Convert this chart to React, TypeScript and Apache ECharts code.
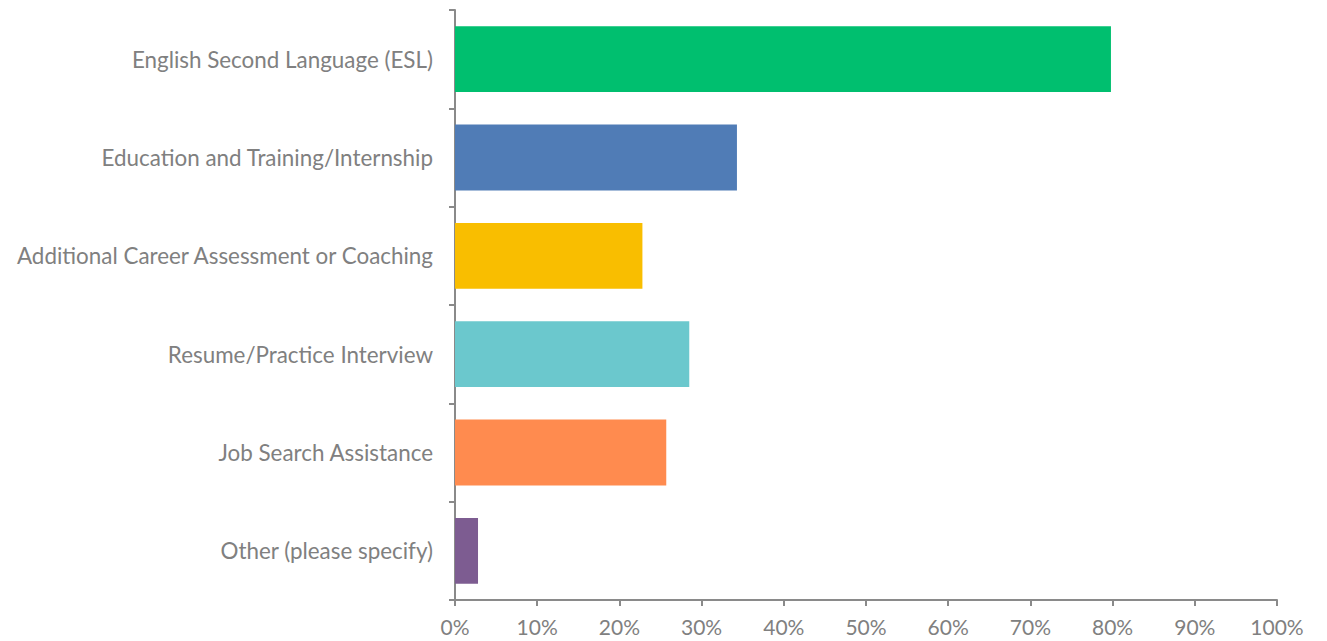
import React, { useEffect, useRef } from "react";
import * as echarts from "echarts";

const categories = [
  "English Second Language (ESL)",
  "Education and Training/Internship",
  "Additional Career Assessment or Coaching",
  "Resume/Practice Interview",
  "Job Search Assistance",
  "Other (please specify)",
];
const values = [79.8, 34.3, 22.8, 28.5, 25.7, 2.8];
const colors = ["#00BF6F", "#507CB6", "#F9BE00", "#6BC8CD", "#FF8B4F", "#7D5C91"];
const xTicks = [0, 10, 20, 30, 40, 50, 60, 70, 80, 90, 100];

export default function App() {
  const ref = useRef<HTMLDivElement>(null);
  useEffect(() => {
    if (!ref.current) return;
    const chart = echarts.init(ref.current, null, { renderer: "svg" });
    const font = "Lato, 'Open Sans', sans-serif";
    chart.setOption({
      animation: false,
      grid: { left: 447, right: 42, top: 2, bottom: 41, containLabel: false },
      xAxis: {
        type: "value",
        min: 0,
        max: 100,
        interval: 10,
        axisLine: { show: true, lineStyle: { color: "#8a8a8a", width: 2 } },
        axisTick: { show: true, length: 6, lineStyle: { color: "#8a8a8a", width: 2 } },
        splitLine: { show: false },
        axisLabel: {
          formatter: (v: number) => (xTicks.includes(v) ? v + "%" : ""),
          color: "#808080",
          fontSize: 21,
          lineHeight: 24,
          fontFamily: font,
          margin: 14,
        },
      },
      yAxis: {
        type: "category",
        inverse: true,
        data: categories,
        axisLine: { show: true, lineStyle: { color: "#8a8a8a", width: 2 } },
        axisTick: { show: true, length: 6, lineStyle: { color: "#8a8a8a", width: 2 } },
        axisLabel: { color: "#808080", fontSize: 22.4, fontFamily: font, margin: 22 },
      },
      series: [
        {
          type: "bar",
          barCategoryGap: "33%",
          data: values.map((v, i) => ({ value: v, itemStyle: { color: colors[i] } })),
        },
      ],
    });
    return () => chart.dispose();
  }, []);
  return <div ref={ref} style={{ width: 1311, height: 633 }} />;
}
